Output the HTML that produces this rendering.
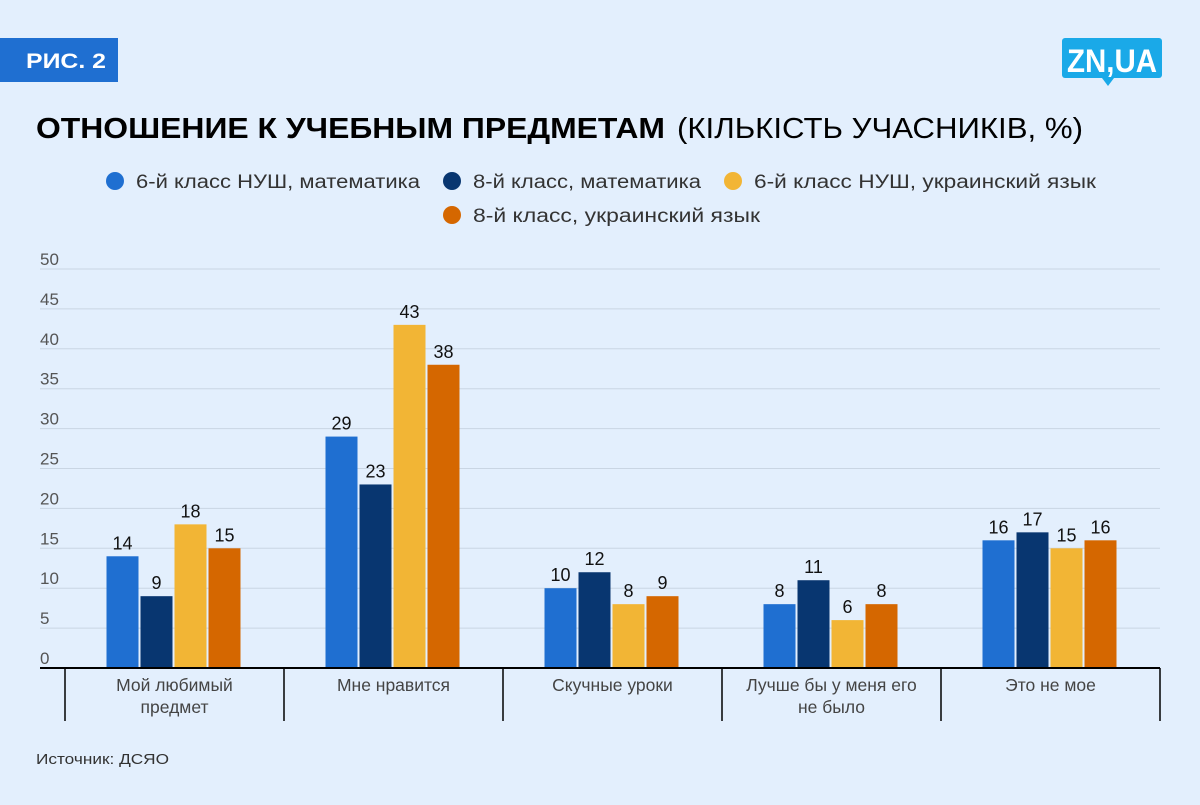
<!DOCTYPE html>
<html><head><meta charset="utf-8"><style>
body{margin:0;background:#e3effd;font-family:"Liberation Sans",sans-serif}
</style></head><body>
<svg width="1200" height="800" xmlns="http://www.w3.org/2000/svg" font-family="Liberation Sans, sans-serif">
<rect width="1200" height="800" fill="#e3effd"/>
<g><rect x="0" y="38" width="118" height="44" fill="#1f6fd1"/><text x="26" y="68" font-size="21" font-weight="bold" fill="#fff" textLength="80" lengthAdjust="spacingAndGlyphs">РИС. 2</text></g>
<g><rect x="1062" y="38" width="100" height="40" rx="3" fill="#1aa9e8"/><path d="M1102 78 L1108 86 L1114 78Z" fill="#1aa9e8"/><text x="1067" y="72" font-size="32" font-weight="bold" fill="#fff" textLength="90" lengthAdjust="spacingAndGlyphs">ZN,UA</text></g>
<text x="36" y="138" font-size="29" font-weight="bold" fill="#000" textLength="629" lengthAdjust="spacingAndGlyphs">ОТНОШЕНИЕ К УЧЕБНЫМ ПРЕДМЕТАМ</text>
<text x="677" y="138" font-size="29" fill="#000" textLength="406" lengthAdjust="spacingAndGlyphs">(КІЛЬКІСТЬ УЧАСНИКІВ, %)</text>
<g id="legend" font-size="19" fill="#333"></g>
<g id="plot"></g>
<text x="36" y="764" font-size="15" fill="#333" textLength="133" lengthAdjust="spacingAndGlyphs">Источник: ДСЯО</text>
</svg>
<script>
const categories=[["Мой любимый","предмет"],["Мне нравится"],["Скучные уроки"],["Лучше бы у меня его","не было"],["Это не мое"]];
const seriesNames=["6-й класс НУШ, математика","8-й класс, математика","6-й класс НУШ, украинский язык","8-й класс, украинский язык"];
const colors=["#1f6fd1","#083670","#f2b535","#d56700"];
const s1=[14,29,10,8,16];
const s2=[9,23,12,11,17];
const s3=[18,43,8,6,15];
const s4=[15,38,9,8,16];
const series=[s1,s2,s3,s4];
const yTicks=[0,5,10,15,20,25,30,35,40,45,50];
const NS="http://www.w3.org/2000/svg";
function mk(t,a,p){const e=document.createElementNS(NS,t);for(const k in a)e.setAttribute(k,a[k]);p.appendChild(e);return e;}
const plot=document.getElementById('plot'),leg=document.getElementById('legend');
const x0=65,cw=219,yBase=668,yTop=269;
const y=v=>yBase-(v/50)*(yBase-yTop);
yTicks.forEach(t=>{
 if(t>0){const l=mk('line',{x1:40,x2:1160,y1:y(t),y2:y(t),stroke:'#c9d5e3','stroke-width':1},plot);
 
 }
 const tx=mk('text',{x:40,y:y(t)-4,'font-size':17,fill:'#555'},plot);tx.textContent=t;
 
 
});
categories.forEach((c,i)=>{
 const cx=x0+cw*(i+0.5);
 series.forEach((s,j)=>{
  const bx=cx-68+j*34;
  const r=mk('rect',{x:bx,y:y(s[i]),width:32,height:yBase-y(s[i]),fill:colors[j]},plot);
  
  
  const t=mk('text',{x:bx+16,y:y(s[i])-7,'font-size':18,fill:'#111','text-anchor':'middle'},plot);t.textContent=s[i];
  
  
 });
 c.forEach((ln,k)=>{const t=mk('text',{x:cx,y:691+k*22,'font-size':17.5,fill:'#444','text-anchor':'middle'},plot);t.textContent=ln;
 
 });
});
for(let i=0;i<=5;i++){const l=mk('line',{x1:x0+cw*i,x2:x0+cw*i,y1:668,y2:721,stroke:'#000','stroke-width':1.5},plot);
 
 }
const ax=mk('line',{x1:40,x2:1160,y1:668,y2:668,stroke:'#000','stroke-width':2},plot);


const lp=[[115,181,284],[452,181,228],[733,181,342],[452,215,287]];
seriesNames.forEach((n,j)=>{
 const g=mk('g',{},leg);
 
 
 mk('circle',{cx:lp[j][0],cy:lp[j][1],r:9,fill:colors[j]},g);
 const t=mk('text',{x:lp[j][0]+21,y:lp[j][1]+7,textLength:lp[j][2],lengthAdjust:'spacingAndGlyphs'},g);t.textContent=n;
});
</script>
</body></html>
